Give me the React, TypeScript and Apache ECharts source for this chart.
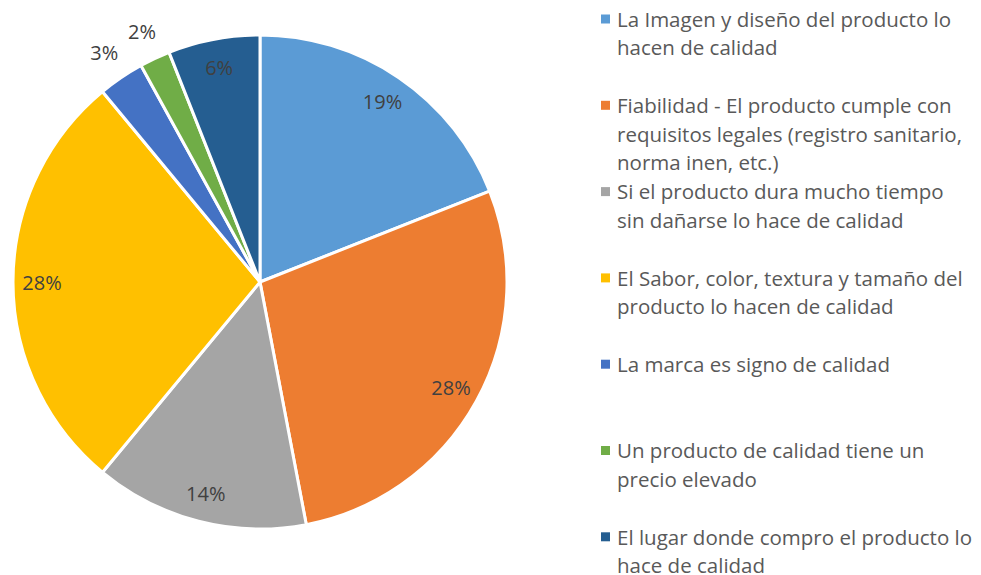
import React, { useEffect, useRef } from "react";
import * as echarts from "echarts";

const categories = [
  "La Imagen y diseño del producto lo hacen de calidad",
  "Fiabilidad - El producto cumple con requisitos legales (registro sanitario, norma inen, etc.)",
  "Si el producto dura mucho tiempo sin dañarse lo hace de calidad",
  "El Sabor, color, textura y tamaño del producto lo hacen de calidad",
  "La marca es signo de calidad",
  "Un producto de calidad tiene un precio elevado",
  "El lugar donde compro el producto lo hace de calidad",
];

const legendLines = [
  ["La Imagen y diseño del producto lo", "hacen de calidad"],
  ["Fiabilidad - El producto cumple con", "requisitos legales (registro sanitario,", "norma inen, etc.)"],
  ["Si el producto dura mucho tiempo", "sin dañarse lo hace de calidad"],
  ["El Sabor, color, textura y tamaño del", "producto lo hacen de calidad"],
  ["La marca es signo de calidad"],
  ["Un producto de calidad tiene un", "precio elevado"],
  ["El lugar donde compro el producto lo", "hace de calidad"],
];

const values = [19, 28, 14, 28, 3, 2, 6];
const outsideLabel = [false, false, false, false, true, true, false];

const colors = ["#5B9BD5", "#ED7D31", "#A5A5A5", "#FFC000", "#4472C4", "#70AD47", "#255E91"];

const FONT = "Open Sans";

export default function App() {
  const ref = useRef<HTMLDivElement>(null);

  useEffect(() => {
    if (!ref.current) return;
    const chart = echarts.init(ref.current, undefined, { renderer: "svg" });
    const center = [260, 282];
    const R = 247;

    const baseData = categories.map((c, i) => ({
      name: c,
      value: values[i],
      itemStyle: { color: colors[i] },
    }));

    const labelStyle = {
      formatter: "{c}%",
      fontFamily: FONT,
      fontSize: 20,
      color: "#404040",
    };

    const graphic: any[] = [];
    legendLines.forEach((lines, i) => {
      const cy = 19 + i * 86.3;
      graphic.push({
        type: "rect",
        shape: { x: 601, y: cy - 4.5, width: 9, height: 9 },
        style: { fill: colors[i] },
      });
      graphic.push({
        type: "text",
        x: 617,
        y: cy - 14.3,
        style: {
          text: lines.join("\n"),
          fontFamily: FONT,
          fontSize: 20.5,
          lineHeight: 28.4,
          fill: "#595959",
          verticalAlign: "top",
        },
      });
    });

    chart.setOption({
      animation: false,
      backgroundColor: "#ffffff",
      graphic,
      series: [
        {
          type: "pie",
          center,
          radius: [0, R],
          startAngle: 90,
          clockwise: true,
          silent: true,
          label: { show: false },
          labelLine: { show: false },
          itemStyle: { borderColor: "#ffffff", borderWidth: 3 },
          data: baseData,
        },
        {
          type: "pie",
          center,
          radius: [183, R],
          startAngle: 90,
          clockwise: true,
          silent: true,
          itemStyle: { color: "rgba(0,0,0,0)" },
          label: { show: true, position: "inside", ...labelStyle },
          labelLine: { show: false },
          data: categories.map((c, i) => ({
            name: c,
            value: values[i],
            itemStyle: { color: "rgba(0,0,0,0)" },
            label: { show: !outsideLabel[i] },
          })),
        },
        {
          type: "pie",
          center,
          radius: [252, 296],
          startAngle: 90,
          clockwise: true,
          silent: true,
          itemStyle: { color: "rgba(0,0,0,0)" },
          label: { show: true, position: "inside", ...labelStyle },
          labelLine: { show: false },
          data: categories.map((c, i) => ({
            name: c,
            value: values[i],
            itemStyle: { color: "rgba(0,0,0,0)" },
            label: { show: outsideLabel[i] },
          })),
        },
      ],
    });
    return () => chart.dispose();
  }, []);

  return <div ref={ref} style={{ width: 981, height: 575, position: "absolute", left: 0, top: 0 }} />;
}
